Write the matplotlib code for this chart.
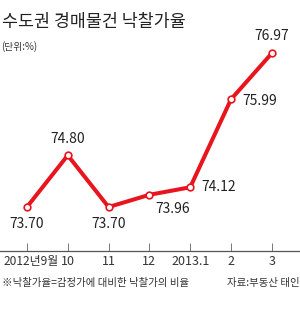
import matplotlib
matplotlib.use('Agg')
import matplotlib.pyplot as plt
import matplotlib.transforms as mtransforms

plt.rcParams['font.family'] = ['Noto Sans CJK KR', 'DejaVu Sans']

months = ['2012년9월', '10', '11', '12', '2013.1', '2', '3']
rates = [73.70, 74.80, 73.70, 73.96, 74.12, 75.99, 76.97]
red = '#e8141e'

fig = plt.figure(figsize=(3.0, 3.19), dpi=100)
ax = fig.add_axes([0, 0.213, 1, 0.66])
x = list(range(len(months)))
ax.plot(x, rates, color=red, lw=2.9, marker='o', ms=4.8,
        mfc='white', mec=red, mew=1.2, zorder=3, solid_capstyle='round')

ax.set_xlim(-0.66, 6.69)
ax.set_ylim(72.764, 77.24)

# value labels: (dx points, dy points, ha, va)
offs = [(0, -7, 'center', 'top'), (0, 7, 'center', 'bottom'),
        (0, -7, 'center', 'top'), (4, -5, 'left', 'top'),
        (8, 0, 'left', 'center'), (8, -1, 'left', 'center'),
        (0, 7, 'center', 'bottom')]
for xi, v, (dx, dy, ha, va) in zip(x, rates, offs):
    ax.annotate(f'{v:.2f}', (xi, v), xytext=(dx, dy), textcoords='offset points',
                ha=ha, va=va, fontsize=10, color='#222222')

for s in ['top', 'right', 'left']:
    ax.spines[s].set_visible(False)
ax.spines['bottom'].set_color('#555555')
ax.spines['bottom'].set_linewidth(0.9)
ax.set_yticks([])
ax.set_xticks(x)
ax.set_xticklabels(months, fontsize=9, color='#333333')
ax.tick_params(axis='x', direction='in', length=6, width=0.7, color='#777777', pad=3)

# nudge the first label so it stays inside the picture
first = ax.get_xticklabels()[0]
first.set_fontsize(8.6)
first.set_transform(first.get_transform() + mtransforms.ScaledTranslation(3 / 72, 0, fig.dpi_scale_trans))

fig.text(0.005, 1 - 22 / 319, '수도권 경매물건 낙찰가율', fontsize=12.5,
         va='center', ha='left', color='#222222')
fig.text(0.005, 1 - 47 / 319, '(단위:%)', fontsize=7, va='center', ha='left', color='#333333')
fig.text(0.005, 1 - 283 / 319, '※낙찰가율=감정가에 대비한 낙찰가의 비율', fontsize=7.5,
         va='center', ha='left', color='#333333')
fig.text(0.998, 1 - 283 / 319, '자료:부동산 태인', fontsize=7.5,
         va='center', ha='right', color='#333333')

fig.savefig('out.png', dpi=100)
